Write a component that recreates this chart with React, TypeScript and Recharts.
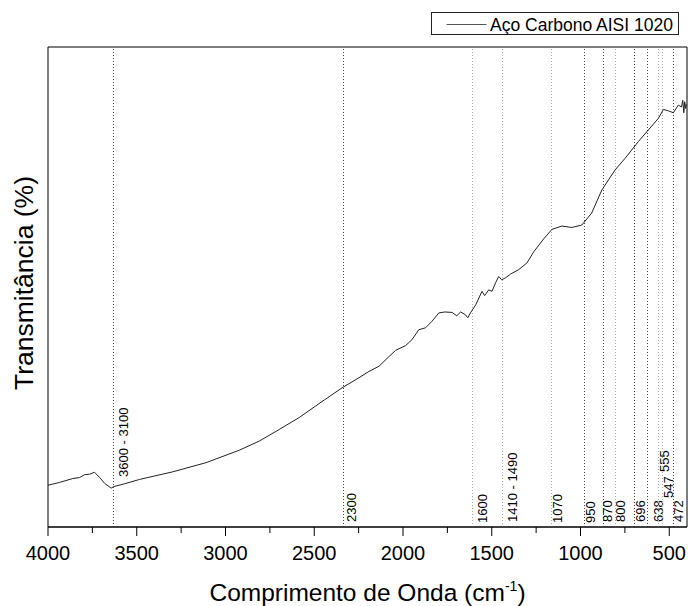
import { LineChart, Line, XAxis, YAxis, ReferenceLine, ReferenceArea, Legend } from 'recharts'

// espectro FTIR (cm-1 -> % transmitância, escala relativa)
const wavenumbers = [
  4000, 3934, 3860, 3822, 3794, 3766, 3738, 3709, 3681, 3644,
  3631, 3569, 3485, 3297, 3110, 2922, 2810, 2698, 2585, 2473,
  2343, 2248, 2192, 2135, 2079, 2042, 1985, 1950, 1911, 1873,
  1838, 1798, 1764, 1723, 1697, 1675, 1648, 1635, 1620, 1590,
  1555, 1540, 1517, 1499, 1478, 1461, 1444, 1423, 1394, 1349,
  1302, 1264, 1208, 1161, 1105, 1049, 993, 937, 880, 805,
  749, 674, 618, 562, 533, 505, 477, 449, 431, 424,
  418, 413, 408, 404,
]
const transmittance = [
  8.7, 9.3, 10.1, 10.3, 10.9, 11.0, 11.4, 10.3, 9.1, 8.1,
  8.4, 9.0, 9.9, 11.5, 13.4, 16.0, 17.9, 20.3, 22.8, 25.7,
  29.0, 31.1, 32.4, 33.5, 35.5, 36.8, 37.8, 39.0, 41.1, 41.5,
  42.8, 44.6, 44.8, 44.7, 44.0, 44.8, 44.2, 43.6, 44.6, 46.3,
  49.1, 48.2, 49.4, 49.1, 50.9, 52.2, 51.5, 51.9, 52.7, 53.6,
  55.0, 57.3, 60.0, 62.0, 62.7, 62.4, 62.9, 65.4, 70.2, 74.4,
  76.8, 80.3, 82.7, 85.1, 87.0, 86.7, 86.3, 87.9, 87.5, 88.9,
  86.3, 88.6, 87.2, 88.1,
]

const xTicks = [4000, 3750, 3500, 3250, 3000, 2750, 2500, 2250, 2000, 1750, 1500, 1250, 1000, 750, 500]

// bandas marcadas
const bandPositions = [3632, 2336, 1610, 1440, 1166, 980, 871, 802, 693, 624, 558, 537, 477]
const bandLabels = ['3600 - 3100', '2300', '1600', '1410 - 1490', '1070', '950', '870', '800', '696', '638', '555', '547', '472']

// posição dos rótulos (px) e tom da linha
const bandLabelDx = [14.7, 12.7, 14.4, 14.7, 11, 11, 8.7, 9.3, 10, 15.7, 10, 10.3, 9.7]
const bandLabelLift = [50, 5, 4, 5, 4, 4, 5, 5, 5, 5, 55, 29, 5]
const bandDark = [true, true, false, false, false, true, true, false, true, true, false, false, true]

const seriesName = 'Aço Carbono AISI 1020'
const xTitle = 'Comprimento de Onda (cm'
const yTitle = 'Transmitância (%)'
const FONT = '"Liberation Sans", Arial, sans-serif'

const data = wavenumbers.map((w, i) => ({ w, t: transmittance[i] }))

const XTick = (props: any) => {
  const { x, y, payload } = props
  const major = payload.value % 500 === 0
  return (
    <g>
      <line x1={x} x2={x} y1={y} y2={y + (major ? 9 : 6)} stroke="#000" strokeWidth={1} />
      {major && (
        <text x={x} y={y + 33} textAnchor="middle" fontSize={20} fontFamily={FONT} fill="#000">
          {payload.value}
        </text>
      )}
    </g>
  )
}

const bandLabel = (i: number) => (props: any) => {
  const vb = props.viewBox || {}
  const bx = vb.x + bandLabelDx[i]
  const by = vb.y + vb.height - bandLabelLift[i]
  return (
    <text transform={`translate(${bx},${by}) rotate(-90)`} fontSize={13} fontFamily={FONT} fill="#000">
      {bandLabels[i]}
    </text>
  )
}

// títulos dos eixos (o eixo y tem largura 0, então vão juntos aqui)
const AxisTitles = (p: any) => {
  const vb = p.viewBox || {}
  return (
    <g>
      <text x={vb.x + vb.width / 2} y={vb.y + 74} textAnchor="middle" fontSize={24.5} fontFamily={FONT} fill="#000">
        {xTitle}
        <tspan fontSize={14} dy={-10}>-1</tspan>
        <tspan dy={10}>)</tspan>
      </text>
      <text transform={`translate(33,${vb.y - 244}) rotate(-90)`} textAnchor="middle" fontSize={26.5} fontFamily={FONT} fill="#000">
        {yTitle}
      </text>
    </g>
  )
}

const LegendBox = () => (
  <svg width={249} height={24} style={{ display: 'block' }}>
    <rect x={0.5} y={0.5} width={247} height={22} fill="#fff" stroke="#222" />
    <line x1={15.5} x2={55.5} y1={12.5} y2={12.5} stroke="#555" strokeWidth={1} />
    <text x={59} y={19.3} fontSize={17.5} fontFamily={FONT} fill="#000">{seriesName}</text>
  </svg>
)

export default function App() {
  return (
    <div style={{ position: 'absolute', left: 0, top: 0, background: '#fff' }}>
      <LineChart width={688} height={606} data={data} margin={{ top: 47, right: 1, bottom: 28, left: 48 }}>
        <XAxis
          dataKey="w"
          type="number"
          domain={[400, 4000]}
          reversed
          allowDataOverflow
          ticks={xTicks}
          interval={0}
          tickLine={false}
          tickSize={0}
          tickMargin={0}
          tick={(p: any) => <XTick {...p} />}
          height={51}
          axisLine={{ stroke: '#000' }}
          label={{ content: (p: any) => <AxisTitles {...p} /> }}
        />
        <YAxis type="number" domain={[0, 100]} width={0} tick={false} tickLine={false} axisLine={{ stroke: '#000' }} />
        <ReferenceArea x1={400} x2={4000} y1={0} y2={100} fill="none" stroke="#000" strokeWidth={1} />
        {bandPositions.map((b, i) => (
          <ReferenceLine
            key={b}
            x={b}
            stroke={bandDark[i] ? '#444' : '#aaa'}
            strokeDasharray="1 2"
            shapeRendering="crispEdges"
            label={bandLabel(i)}
          />
        ))}
        <Line
          type="linear"
          dataKey="t"
          name={seriesName}
          stroke="#222"
          strokeWidth={1}
          dot={false}
          isAnimationActive={false}
        />
        <Legend
          layout="vertical"
          verticalAlign="middle"
          align="center"
          wrapperStyle={{ top: 12, left: 431 }}
          content={() => <LegendBox />}
        />
      </LineChart>
    </div>
  )
}
